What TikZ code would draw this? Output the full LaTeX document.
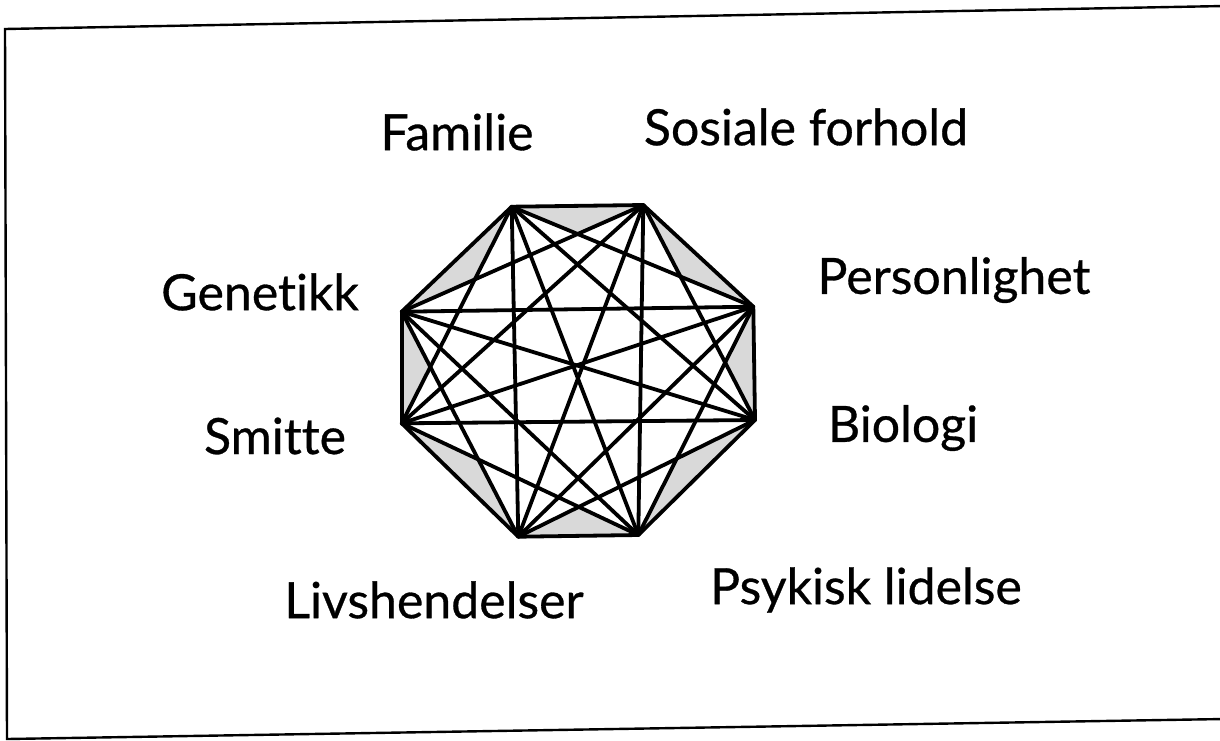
\documentclass[tikz,border=0pt]{standalone}
\usepackage{fontspec}
\setmainfont{Lato}[Ligatures=NoCommon, FakeBold=0.6, BoldFont=Lato]
\begin{document}
\begin{tikzpicture}[x=1pt,y=-1pt,
  lbl/.style={font=\fontsize{50}{58}\selectfont\bfseries, inner sep=0pt, anchor=center},
  chord/.style={line width=3.8pt, line cap=round, line join=round},
  frame/.style={line width=2.4pt}]
\useasboundingbox (0,0) rectangle (1220,740);
\clip (0,0) rectangle (1220,740);
% vertices
\coordinate (v0) at (511.7,206.7);
\coordinate (v1) at (643.3,205);
\coordinate (v2) at (753.3,306.7);
\coordinate (v3) at (755,420);
\coordinate (v4) at (638.3,535);
\coordinate (v5) at (518.3,536.7);
\coordinate (v6) at (401.7,423.3);
\coordinate (v7) at (401.7,311.7);
% frame
\coordinate (f1) at (1224,6);
\coordinate (f2) at (5,29);
\coordinate (f3) at (7,739);
\coordinate (f4) at (1224,719);
\draw[frame] (f1) -- (f2) -- (f3) -- (f4);
% gray shading
\fill[gray!30] (v0)--(v1)--(v2)--(v3)--(v4)--(v5)--(v6)--(v7)--cycle;
\fill[white] (v0)--(v2)--(v4)--(v6)--cycle;
\fill[white] (v1)--(v3)--(v5)--(v7)--cycle;
% chords
\foreach \i in {0,...,7}{
  \foreach \j in {0,...,7}{
    \ifnum\i<\j
      \draw[chord] (v\i) -- (v\j);
    \fi
  }
}
% labels
\node[lbl] (fam) at (457,132) {Familie};
\node[lbl] (sos) at (806,127) {Sosiale forhold};
\node[lbl] (gen) at (260,292) {Genetikk};
\node[lbl] (smi) at (275,436) {Smitte};
\node[lbl] (per) at (954,280) {Personlighet};
\node[lbl] (bio) at (903,428) {Biologi};
\node[lbl] (liv) at (434,600) {Livshendelser};
\node[lbl] (psy) at (866,590) {Psykisk lidelse};
\end{tikzpicture}
\end{document}
